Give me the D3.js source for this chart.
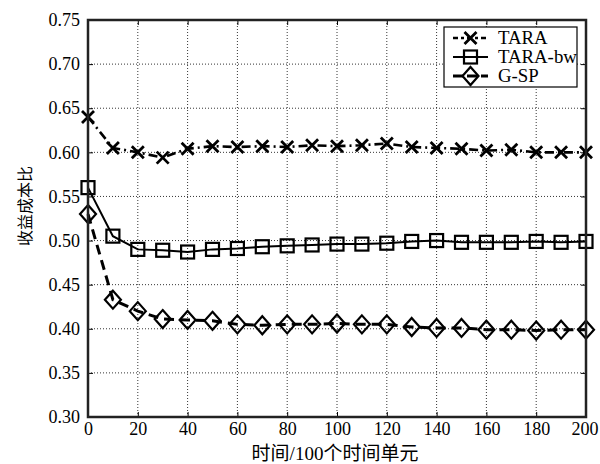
<!DOCTYPE html>
<html><head><meta charset="utf-8">
<script src="https://cdn.jsdelivr.net/npm/d3@7"></script>
<style>body{margin:0;background:#fff}</style>
</head><body><svg id="c" width="600" height="464"></svg>
<script>
const xs = [0,10,20,30,40,50,60,70,80,90,100,110,120,130,140,150,160,170,180,190,200];
const tara = [0.640,0.605,0.600,0.594,0.604,0.607,0.606,0.607,0.606,0.608,0.607,0.608,0.610,0.606,0.605,0.604,0.602,0.603,0.600,0.600,0.600];
const taraBw = [0.560,0.505,0.490,0.489,0.487,0.490,0.491,0.493,0.494,0.495,0.496,0.496,0.497,0.499,0.500,0.498,0.498,0.498,0.499,0.498,0.499];
const gsp = [0.530,0.433,0.420,0.411,0.410,0.409,0.405,0.404,0.405,0.405,0.406,0.405,0.405,0.402,0.401,0.401,0.399,0.399,0.398,0.399,0.399];
const xTicks = [0,20,40,60,80,100,120,140,160,180,200];
const yTicks = [0.30,0.35,0.40,0.45,0.50,0.55,0.60,0.65,0.70,0.75];
const seriesNames = ["TARA","TARA-bw","G-SP"];
const xLabelParts = ["时间","/100","个时间单元"];
const yLabel = "收益成本比";

const L=88,R=586,T=20,B=417;
const svg=d3.select("#c");
const x=d3.scaleLinear().domain([0,200]).range([L,R]);
const y=d3.scaleLinear().domain([0.30,0.75]).range([B,T]);
const serif="'Liberation Serif','Times New Roman',serif";
const cjk="'Noto Sans CJK SC',sans-serif";

// grid
const g=svg.append("g");
xTicks.slice(1,-1).forEach(t=>g.append("line").attr("x1",x(t)).attr("x2",x(t)).attr("y1",T).attr("y2",B)
  .attr("stroke","#000").attr("stroke-width",0.8).attr("stroke-dasharray","1,2"));
yTicks.slice(1,-1).forEach(t=>g.append("line").attr("y1",y(t)).attr("y2",y(t)).attr("x1",L).attr("x2",R)
  .attr("stroke","#000").attr("stroke-width",0.8).attr("stroke-dasharray","1,2"));

// axes
const ax=svg.append("g").attr("transform",`translate(0,${B})`).call(d3.axisBottom(x).tickValues(xTicks).tickSize(-5).tickPadding(5).tickFormat(d3.format("d")));
svg.append("g").attr("transform",`translate(${L},0)`).call(d3.axisLeft(y).tickValues(yTicks).tickSize(-5).tickPadding(8).tickFormat(d3.format(".2f")));
svg.append("g").attr("transform",`translate(0,${T})`).call(d3.axisTop(x).tickValues(xTicks).tickSize(-5).tickFormat(""));
svg.append("g").attr("transform",`translate(${R},0)`).call(d3.axisRight(y).tickValues(yTicks).tickSize(-5).tickFormat(""));
svg.selectAll(".domain").remove();
svg.selectAll(".tick line").attr("stroke","#000").attr("stroke-width",1);
svg.selectAll(".tick text").attr("font-family",serif).attr("font-size",18).attr("fill","#000");
ax.selectAll(".tick text").filter(d=>d===200).attr("dx",-1.5);

// series
const defs=[
  {v:tara, dash:"9,4,2,4", w:2.6, m:"x"},
  {v:taraBw, dash:null, w:2, m:"s"},
  {v:gsp, dash:"10,6", w:3, m:"d"}
];
function marker(sel,type,cx,cy){
  if(type==="x"){
    const s=6;
    sel.append("path").attr("d",`M${cx-s},${cy-s}L${cx+s},${cy+s}M${cx-s},${cy+s}L${cx+s},${cy-s}`).attr("stroke","#000").attr("stroke-width",2.8).attr("fill","none");
  } else if(type==="s"){
    const s=6.5;
    sel.append("rect").attr("x",cx-s).attr("y",cy-s).attr("width",2*s).attr("height",2*s).attr("fill","none").attr("stroke","#000").attr("stroke-width",2.2);
  } else {
    const w=8,h=9;
    sel.append("path").attr("d",`M${cx},${cy-h}L${cx+w},${cy}L${cx},${cy+h}L${cx-w},${cy}Z`).attr("fill","none").attr("stroke","#000").attr("stroke-width",2.2);
  }
}
const line=d3.line().x((d,i)=>x(xs[i])).y(d=>y(d));
defs.forEach(s=>{
  const p=svg.append("path").datum(s.v).attr("d",line).attr("fill","none").attr("stroke","#000").attr("stroke-width",s.w);
  if(s.dash)p.attr("stroke-dasharray",s.dash);
  const mg=svg.append("g");
  s.v.forEach((d,i)=>marker(mg,s.m,x(xs[i]),y(d)));
});

// legend
svg.append("clipPath").attr("id","lgclip").append("rect").attr("x",440).attr("y",20).attr("width",143).attr("height",80);
const lg=svg.append("g").attr("clip-path","url(#lgclip)");
lg.append("rect").attr("x",444).attr("y",27).attr("width",133).attr("height",60).attr("fill","#fff").attr("stroke","#000").attr("stroke-width",1.2);
const ly=[38,57,76];
defs.forEach((s,i)=>{
  const l=lg.append("line").attr("x1",453).attr("x2",488).attr("y1",ly[i]).attr("y2",ly[i]).attr("stroke","#000").attr("stroke-width",s.w);
  if(s.dash) l.attr("stroke-dasharray", i===0?"5,3,3,3":"10,4");
  marker(lg,s.m,470.5,ly[i]);
  lg.append("text").attr("x",498).attr("y",ly[i]+6).attr("font-family",serif).attr("font-size",18.8).text(seriesNames[i]);
});

// frame
svg.append("rect").attr("x",L).attr("y",T).attr("width",R-L).attr("height",B-T).attr("fill","none").attr("stroke","#222").attr("stroke-width",2.5);

// labels
const xl=svg.append("text").attr("x",335).attr("y",460).attr("text-anchor","middle").attr("font-family",cjk).attr("font-size",19);
xl.append("tspan").text(xLabelParts[0]);
xl.append("tspan").attr("font-family",serif).text(xLabelParts[1]);
xl.append("tspan").text(xLabelParts[2]);
svg.append("text").attr("transform",`translate(31,206) rotate(-90)`).attr("text-anchor","middle").attr("font-family",cjk).attr("font-size",16).text(yLabel);
</script></body></html>
